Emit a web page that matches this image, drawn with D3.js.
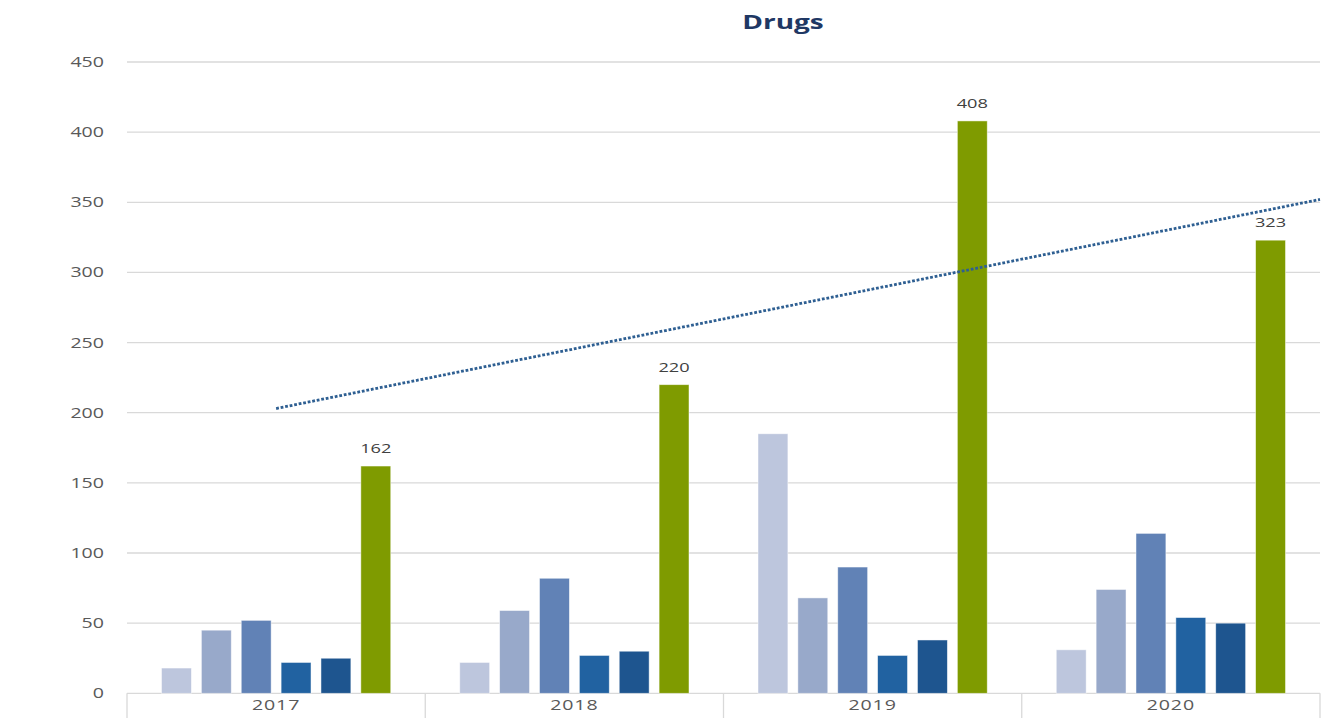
<!DOCTYPE html>
<html>
<head>
<meta charset="utf-8">
<script src="https://cdn.jsdelivr.net/npm/d3@7"></script>
<style>
  body { margin: 0; background: #fff; }
  text { font-family: "Open Sans", sans-serif; }
</style>
</head>
<body>
<svg id="chart" width="1327" height="718"></svg>
<script>
// Datos del gráfico
const years = ["2017", "2018", "2019", "2020"];
const serie1 = [18, 22, 185, 31];
const serie2 = [45, 59, 68, 74];
const serie3 = [52, 82, 90, 114];
const serie4 = [22, 27, 27, 54];
const serie5 = [25, 30, 38, 50];
const total = [162, 220, 408, 323];
const yTicks = [0, 50, 100, 150, 200, 250, 300, 350, 400, 450];
// línea de tendencia: posición en categorías (0 = centro de 2017) y valor
const trendIdx = [0, 3.5];
const trendVal = [203, 352];

const series = [serie1, serie2, serie3, serie4, serie5, total];
const colors = ["#bdc6dd", "#98a9ca", "#6182b6", "#2162a1", "#1e558f", "#7f9b00"];

const width = 1327, height = 718;
const margin = { left: 127, right: 7, top: 62, bottom: 24.7 };
const stretch = 1.4; // el texto del original está ensanchado

const svg = d3.select("#chart");

const x = d3.scaleBand()
  .domain(years)
  .range([margin.left, width - margin.right])
  .paddingInner(0)
  .paddingOuter(0);

const inner = d3.scaleBand()
  .domain(d3.range(series.length))
  .range([34.5, x.bandwidth() - 34.5])
  .paddingInner(0.25)
  .paddingOuter(0);

const y = d3.scaleLinear()
  .domain([0, 450])
  .range([height - margin.bottom, margin.top]);

// Líneas de cuadrícula
svg.append("g")
  .selectAll("line")
  .data(yTicks)
  .join("line")
  .attr("x1", margin.left)
  .attr("x2", width - margin.right)
  .attr("y1", d => y(d))
  .attr("y2", d => y(d))
  .attr("stroke", "#d9d9d9")
  .attr("stroke-width", 1.3);

// Etiquetas eje Y
svg.append("g")
  .selectAll("text")
  .data(yTicks)
  .join("text")
  .attr("transform", d => `translate(104,${y(d) + 5}) scale(${stretch},1)`)
  .attr("text-anchor", "end")
  .attr("font-size", 14)
  .attr("fill", "#595959")
  .text(d => d);

// Separadores del eje X
const bounds = years.map(d => x(d)).concat([x.range()[1]]);
svg.append("g")
  .selectAll("line")
  .data(bounds)
  .join("line")
  .attr("x1", d => d)
  .attr("x2", d => d)
  .attr("y1", y(0))
  .attr("y2", height)
  .attr("stroke", "#d9d9d9")
  .attr("stroke-width", 1.3);

// Etiquetas de categoría
svg.append("g")
  .selectAll("text")
  .data(years)
  .join("text")
  .attr("transform", d => `translate(${x(d) + x.bandwidth() / 2},${y(0) + 17}) scale(${stretch},1)`)
  .attr("text-anchor", "middle")
  .attr("font-size", 14)
  .attr("letter-spacing", 0.6)
  .attr("fill", "#595959")
  .text(d => d);

// Barras
series.forEach((vals, s) => {
  svg.append("g")
    .selectAll("rect")
    .data(vals)
    .join("rect")
    .attr("x", (d, i) => x(years[i]) + inner(s))
    .attr("width", inner.bandwidth())
    .attr("y", d => y(d))
    .attr("height", d => y(0) - y(d))
    .attr("fill", colors[s])
    .attr("stroke", "#ffffff")
    .attr("stroke-opacity", 0.6)
    .attr("stroke-width", 0.8);
});

// Etiquetas de datos (solo total)
svg.append("g")
  .selectAll("text")
  .data(total)
  .join("text")
  .attr("transform", (d, i) => `translate(${x(years[i]) + inner(5) + inner.bandwidth() / 2},${y(d) - 13}) scale(${stretch},1)`)
  .attr("text-anchor", "middle")
  .attr("font-size", 13)
  .attr("fill", "#404040")
  .text(d => d);

// Línea de tendencia
const step = x.step();
const trendX = i => x(years[0]) + x.bandwidth() / 2 + i * step;
svg.append("line")
  .attr("x1", trendX(trendIdx[0]))
  .attr("y1", y(trendVal[0]))
  .attr("x2", trendX(trendIdx[1]))
  .attr("y2", y(trendVal[1]))
  .attr("stroke", "#2e5f92")
  .attr("stroke-width", 2.8)
  .attr("stroke-dasharray", "2.8,1.8");

// Título
svg.append("text")
  .attr("transform", `translate(783,29) scale(${stretch},1)`)
  .attr("text-anchor", "middle")
  .attr("font-size", 20)
  .attr("font-weight", "bold")
  .attr("fill", "#1f3864")
  .text("Drugs");
</script>
</body>
</html>
